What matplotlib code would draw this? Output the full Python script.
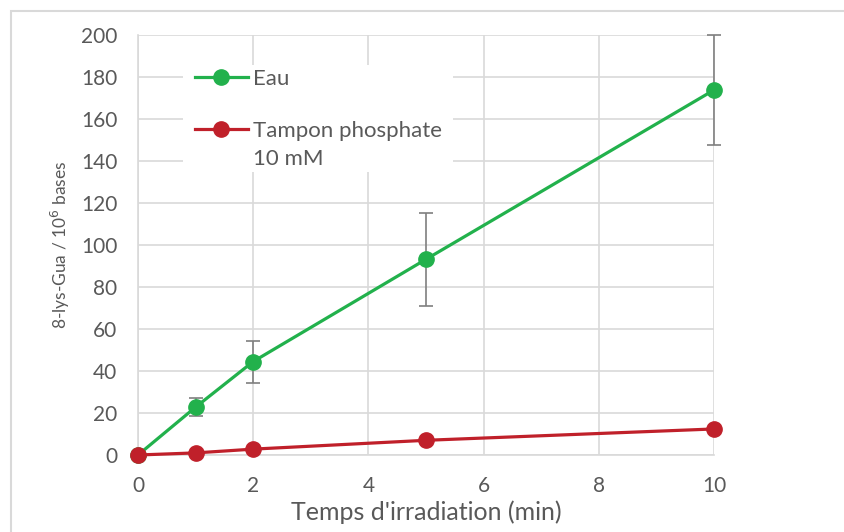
import matplotlib
matplotlib.use('Agg')
import matplotlib.pyplot as plt
from matplotlib.patches import Rectangle

# irradiation times (min) and 8-lys-Gua yields per 10^6 bases
times = [0, 1, 2, 5, 10]
eau = [0.0, 22.8, 44.5, 93.2, 173.8]
eau_err = [0.0, 4.2, 10.0, 22.2, 26.0]
tampon = [0.0, 1.0, 2.8, 7.0, 12.4]

GREEN = '#22b14c'
RED = '#c0202a'
GRID = '#d9d9d9'
TEXT = '#595959'

plt.rcParams['font.family'] = ['Lato', 'DejaVu Sans']

fig = plt.figure(figsize=(8.45, 5.32), dpi=100)
ax = fig.add_axes([138 / 845, 1 - 455 / 532, 576 / 845, 420 / 532])

# outer chart frame
fig.patches.append(Rectangle((11 / 845, -0.1), 1.2, 1.1 - 11 / 532,
                             transform=fig.transFigure, fill=False,
                             edgecolor=GRID, lw=1.5, zorder=0))

ax.errorbar(times, eau, yerr=eau_err, fmt='none', ecolor='#7f7f7f',
            elinewidth=1.2, capsize=5, capthick=1.2, zorder=2, clip_on=False)
ax.plot(times, eau, '-o', color=GREEN, lw=2.3, ms=11, label='Eau',
        zorder=3, clip_on=False)
ax.plot(times, tampon, '-o', color=RED, lw=2.3, ms=11,
        label='Tampon phosphate', zorder=4, clip_on=False)

ax.set_xlim(0, 10)
ax.set_ylim(0, 200)
ax.set_xticks([0, 2, 4, 6, 8, 10])
ax.set_yticks(range(0, 201, 20))
ax.grid(True, color=GRID, lw=1.2)
ax.set_axisbelow(True)
for side in ['top', 'right']:
    ax.spines[side].set_visible(False)
for side in ['left', 'bottom']:
    ax.spines[side].set_color(GRID)
    ax.spines[side].set_linewidth(1.2)
ax.tick_params(length=0, colors=TEXT, labelsize=15, pad=15)

ax.set_xlabel("Temps d'irradiation (min)", fontsize=18, color=TEXT, labelpad=3)
ax.set_ylabel('8-lys-Gua / 10$^{6}$ bases', fontsize=12.5, color=TEXT, labelpad=6)

# white panel behind the legend hides the gridlines
ax.add_patch(Rectangle((0.078, 0.674), 0.469, 0.255, transform=ax.transAxes,
                       facecolor='white', edgecolor='none', zorder=1))
leg = ax.legend(loc='upper left', bbox_to_anchor=(0.099, 0.92), frameon=False,
                fontsize=16, handlelength=2.38, labelspacing=1.45,
                borderpad=0, borderaxespad=0, handletextpad=0.23)
for t in leg.get_texts():
    t.set_color(TEXT)
ax.annotate('10 mM', xy=(0, 0), xycoords=leg.get_texts()[1],
            xytext=(0, -6), textcoords='offset points', va='top', ha='left',
            fontsize=16, color=TEXT, zorder=6)

fig.savefig('out.png', dpi=100)
